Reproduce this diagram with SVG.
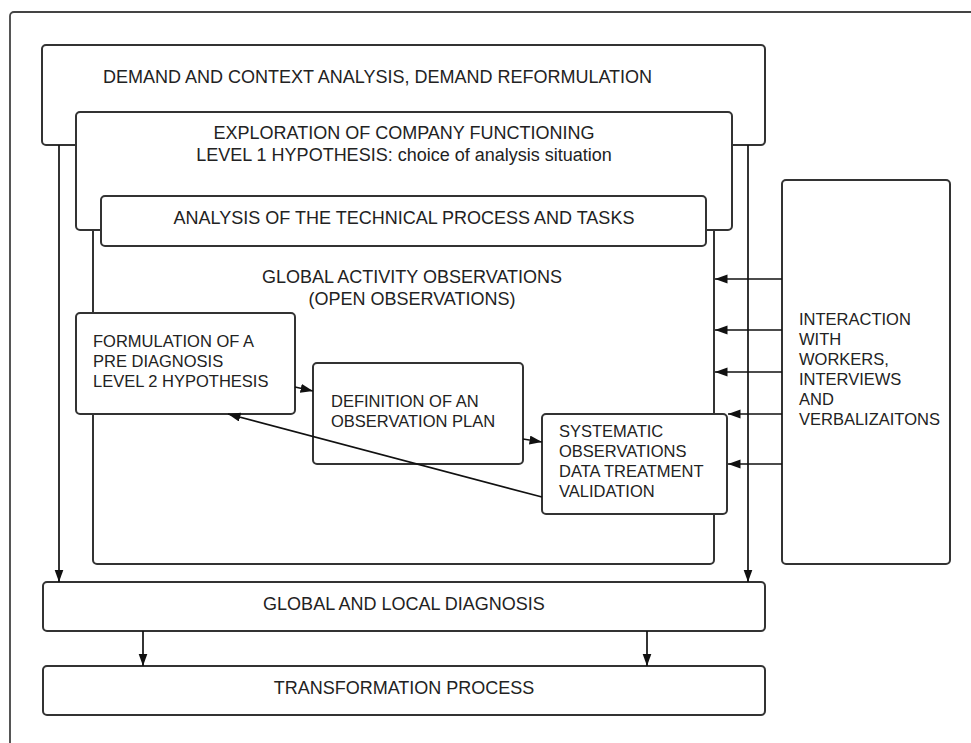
<svg xmlns="http://www.w3.org/2000/svg" width="971" height="743" viewBox="0 0 971 743">
<defs>
<marker id="arr" markerUnits="userSpaceOnUse" markerWidth="13" markerHeight="10" refX="12.5" refY="4.5" orient="auto">
<path d="M0,0 L12.5,4.5 L0,9 z" fill="#111"/>
</marker>
<style>
.box{fill:#fff;stroke:#333;stroke-width:2}
.t{font-family:"Liberation Sans",Arial,sans-serif;font-size:18px;fill:#222}
.s{font-family:"Liberation Sans",Arial,sans-serif;font-size:16.5px;fill:#222}
.c{fill:none;stroke:#111;stroke-width:1.7}
</style>
</defs>
<rect width="971" height="743" fill="#fff"/>
<rect x="10" y="12" width="980" height="760" rx="4" fill="none" stroke="#444" stroke-width="1.8"/>

<g id="demand">
<rect class="box" x="42" y="45" width="723" height="100" rx="4"/>
<text class="t" x="103" y="83">DEMAND AND CONTEXT ANALYSIS, DEMAND REFORMULATION</text>
</g>
<g id="global-activity">
<rect class="box" x="93" y="200" width="621" height="364" rx="4"/>
<text class="t" x="412" y="283" text-anchor="middle">GLOBAL ACTIVITY OBSERVATIONS</text>
<text class="t" x="412" y="305" text-anchor="middle">(OPEN OBSERVATIONS)</text>
</g>
<g id="exploration">
<rect class="box" x="76" y="112" width="656" height="118" rx="4"/>
<text class="t" x="404" y="139" text-anchor="middle">EXPLORATION OF COMPANY FUNCTIONING</text>
<text class="t" x="404" y="161" text-anchor="middle">LEVEL 1 HYPOTHESIS: choice of analysis situation</text>
</g>
<g id="analysis">
<rect class="box" x="101" y="196" width="605" height="50" rx="4"/>
<text class="t" x="404" y="224" text-anchor="middle">ANALYSIS OF THE TECHNICAL PROCESS AND TASKS</text>
</g>
<g id="formulation">
<rect class="box" x="76" y="313" width="219" height="101" rx="4"/>
<text class="s" x="93" y="347">FORMULATION OF A</text>
<text class="s" x="93" y="367">PRE DIAGNOSIS</text>
<text class="s" x="93" y="387">LEVEL 2 HYPOTHESIS</text>
</g>
<g id="definition">
<rect class="box" x="313" y="363" width="210" height="101" rx="4"/>
<text class="s" x="331" y="407">DEFINITION OF AN</text>
<text class="s" x="331" y="427">OBSERVATION PLAN</text>
</g>
<g id="systematic">
<rect class="box" x="542" y="414" width="185" height="100" rx="4"/>
<text class="s" x="559" y="437">SYSTEMATIC</text>
<text class="s" x="559" y="457">OBSERVATIONS</text>
<text class="s" x="559" y="477">DATA TREATMENT</text>
<text class="s" x="559" y="497">VALIDATION</text>
</g>
<g id="interaction">
<rect class="box" x="782" y="180" width="168" height="384" rx="4"/>
<text class="s" x="799" y="325">INTERACTION</text>
<text class="s" x="799" y="345">WITH</text>
<text class="s" x="799" y="365">WORKERS,</text>
<text class="s" x="799" y="385">INTERVIEWS</text>
<text class="s" x="799" y="405">AND</text>
<text class="s" x="799" y="425">VERBALIZAITONS</text>
</g>
<g id="diagnosis">
<rect class="box" x="43" y="582" width="722" height="49" rx="4"/>
<text class="t" x="404" y="610" text-anchor="middle">GLOBAL AND LOCAL DIAGNOSIS</text>
</g>
<g id="transformation">
<rect class="box" x="43" y="666" width="722" height="49" rx="4"/>
<text class="t" x="404" y="694" text-anchor="middle">TRANSFORMATION PROCESS</text>
</g>

<g id="connectors">
<line class="c" x1="59" y1="145" x2="59" y2="582" marker-end="url(#arr)"/>
<line class="c" x1="748" y1="145" x2="748" y2="582" marker-end="url(#arr)"/>
<line class="c" x1="143" y1="631" x2="143" y2="666" marker-end="url(#arr)"/>
<line class="c" x1="647" y1="631" x2="647" y2="666" marker-end="url(#arr)"/>
<line class="c" x1="295" y1="387" x2="313" y2="391" marker-end="url(#arr)"/>
<line class="c" x1="523" y1="439" x2="542" y2="442" marker-end="url(#arr)"/>
<line class="c" x1="542" y1="497" x2="228" y2="414" marker-end="url(#arr)"/>
<line class="c" x1="782" y1="279" x2="715" y2="279" marker-end="url(#arr)"/>
<line class="c" x1="782" y1="330" x2="715" y2="330" marker-end="url(#arr)"/>
<line class="c" x1="782" y1="372" x2="715" y2="372" marker-end="url(#arr)"/>
<line class="c" x1="782" y1="414" x2="728" y2="414" marker-end="url(#arr)"/>
<line class="c" x1="782" y1="464" x2="728" y2="464" marker-end="url(#arr)"/>
</g>
</svg>
